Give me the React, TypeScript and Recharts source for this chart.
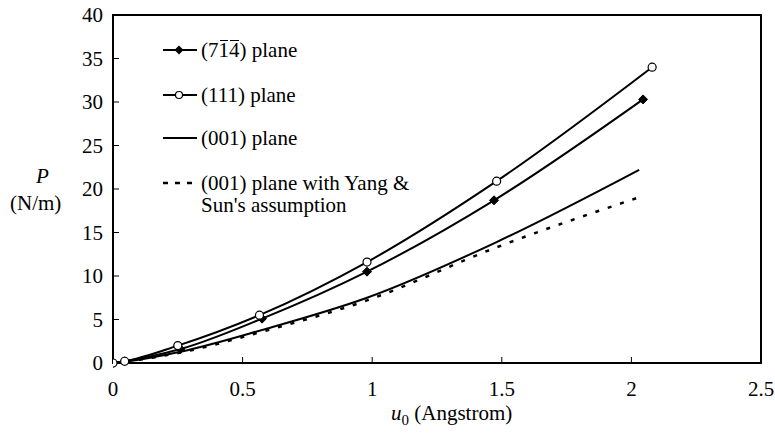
import { LineChart, Line, XAxis, YAxis, ReferenceArea, Legend } from 'recharts';

// displacement u0 (Angstrom) vs. force P (N/m)
const u714 = [0, 0.045, 0.26, 0.575, 0.98, 1.47, 2.045];
const p714 = [0, 0.2, 1.6, 5.1, 10.5, 18.7, 30.3];

const u111 = [0, 0.045, 0.25, 0.565, 0.98, 1.48, 2.08];
const p111 = [0, 0.2, 2.0, 5.5, 11.6, 20.9, 34.0];

const u001 = [0, 0.045, 0.26, 0.575, 0.98, 1.48, 2.03];
const p001 = [0, 0.15, 1.3, 3.8, 7.5, 13.9, 22.2];

const uYang = [0, 0.045, 0.26, 0.575, 0.98, 1.48, 2.025];
const pYang = [0, 0.15, 1.2, 3.6, 7.2, 13.3, 19.0];

const xTicks = [0, 0.5, 1, 1.5, 2, 2.5];
const yTicks = [0, 5, 10, 15, 20, 25, 30, 35, 40];

const FONT = "'Liberation Serif', 'Times New Roman', Tinos, 'Nimbus Roman', 'DejaVu Serif', serif";

const toRows = (xs: number[], ys: number[]) => xs.map((x, i) => ({ x, p: ys[i] }));

const Diamond = (props: any) => {
  const { cx, cy } = props;
  if (cx == null || cy == null) return null;
  const r = 4.5;
  return (
    <polygon
      points={`${cx},${cy - r} ${cx + r},${cy} ${cx},${cy + r} ${cx - r},${cy}`}
      fill="#000"
      stroke="#000"
      strokeWidth={1}
    />
  );
};

const Ring = (props: any) => {
  const { cx, cy } = props;
  if (cx == null || cy == null) return null;
  return <circle cx={cx} cy={cy} r={4} fill="#fff" stroke="#000" strokeWidth={1.2} />;
};

const Sample = ({ kind }: { kind: 'diamond' | 'ring' | 'solid' | 'dash' }) => (
  <svg width={36} height={12} style={{ display: 'block' }}>
    {kind === 'dash' ? (
      <line x1={1} y1={6} x2={35} y2={6} stroke="#000" strokeWidth={2.5} strokeDasharray="5 7" />
    ) : (
      <line x1={1} y1={6} x2={35} y2={6} stroke="#000" strokeWidth={2} />
    )}
    {kind === 'diamond' && <polygon points="17,1.5 21.5,6 17,10.5 12.5,6" fill="#000" />}
    {kind === 'ring' && <circle cx={17} cy={6} r={3.5} fill="#fff" stroke="#000" strokeWidth={1.2} />}
  </svg>
);

// digit with a short bar over it (Miller index notation)
const Bar = ({ d }: { d: string }) => (
  <span style={{ display: 'inline-block', position: 'relative' }}>
    <span style={{ position: 'absolute', left: 1, right: 1, top: 0, borderTop: '1.5px solid #000' }} />
    {d}
  </span>
);

const LegendBox = () => {
  const row = (top: number, kind: any, text: any) => (
    <div style={{ position: 'absolute', left: 0, top, height: 20, display: 'flex', alignItems: 'center' }}>
      <Sample kind={kind} />
      <span style={{ marginLeft: 3, whiteSpace: 'nowrap' }}>{text}</span>
    </div>
  );
  return (
    <div style={{ position: 'relative', width: 300, height: 200, fontFamily: FONT, fontSize: 21, color: '#000', lineHeight: '20px' }}>
      {row(
        1,
        'diamond',
        <>
          (7<Bar d="1" />
          <Bar d="4" />) plane
        </>
      )}
      {row(46, 'ring', '(111) plane')}
      {row(89, 'solid', '(001) plane')}
      {row(134, 'dash', '(001) plane with Yang &')}
      <div style={{ position: 'absolute', left: 39, top: 156, whiteSpace: 'nowrap' }}>Sun's assumption</div>
    </div>
  );
};

export default function App() {
  const tickStyle = { fill: '#000', fontSize: 21, fontFamily: FONT };
  const title = { position: 'absolute' as const, fontFamily: FONT, fontSize: 21, lineHeight: '20px', whiteSpace: 'nowrap' as const };
  return (
    <div style={{ position: 'absolute', left: 0, top: 0, width: 775, height: 433, background: '#fff' }}>
      <LineChart width={775} height={433} margin={{ top: 15, right: 14, bottom: 30, left: 53 }}>
        <XAxis
          type="number"
          dataKey="x"
          domain={[0, 2.5]}
          ticks={xTicks}
          allowDataOverflow
          height={40}
          tickSize={-6}
          tickMargin={24}
          tick={tickStyle}
          axisLine={{ stroke: '#000', strokeWidth: 2 }}
          tickLine={{ stroke: '#000', strokeWidth: 1 }}
        />
        <YAxis
          type="number"
          dataKey="p"
          domain={[0, 40]}
          ticks={yTicks}
          width={60}
          tickSize={-6}
          tickMargin={16}
          tick={tickStyle}
          axisLine={{ stroke: '#000', strokeWidth: 2 }}
          tickLine={{ stroke: '#000', strokeWidth: 1 }}
        />
        <ReferenceArea x1={0} x2={2.5} y1={0} y2={40} fill="none" stroke="#000" strokeWidth={2} />
        <Line
          data={toRows(uYang, pYang)}
          dataKey="p"
          type="monotone"
          stroke="#000"
          strokeWidth={2.5}
          strokeDasharray="4 9"
          dot={false}
          isAnimationActive={false}
        />
        <Line
          data={toRows(u001, p001)}
          dataKey="p"
          type="monotone"
          stroke="#000"
          strokeWidth={2}
          dot={false}
          isAnimationActive={false}
        />
        <Line
          data={toRows(u714, p714)}
          dataKey="p"
          type="monotone"
          stroke="#000"
          strokeWidth={2}
          dot={<Diamond />}
          isAnimationActive={false}
        />
        <Line
          data={toRows(u111, p111)}
          dataKey="p"
          type="monotone"
          stroke="#000"
          strokeWidth={2}
          dot={<Ring />}
          isAnimationActive={false}
        />
        <Legend
          layout="vertical"
          align="center"
          verticalAlign="middle"
          content={() => <LegendBox />}
          wrapperStyle={{ left: 162, top: 39, width: 300, height: 200 }}
        />
      </LineChart>
      <div style={{ ...title, left: 36, top: 166, fontStyle: 'italic' }}>P</div>
      <div style={{ ...title, left: 10, top: 193 }}>(N/m)</div>
      <div style={{ ...title, left: 391, top: 403 }}>
        <i>u</i>
        <span style={{ fontSize: 15, position: 'relative', top: 5 }}>0</span> (Angstrom)
      </div>
    </div>
  );
}
